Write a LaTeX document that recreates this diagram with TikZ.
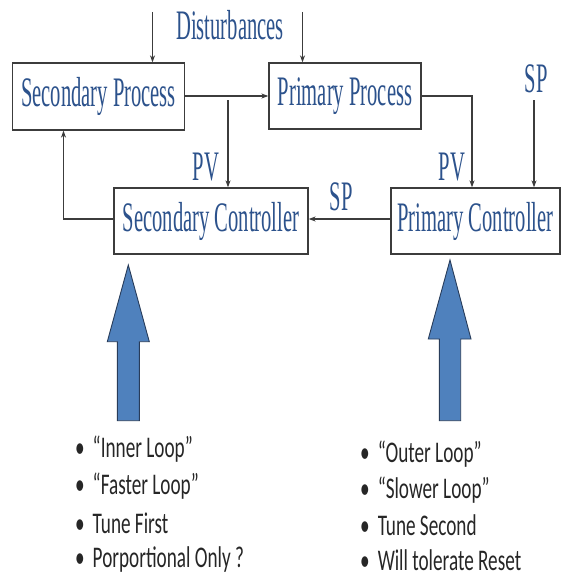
\documentclass[tikz,border=0pt]{standalone}
\usepackage{fontspec}
\usetikzlibrary{arrows.meta}
\newfontfamily\blockfont[FakeStretch=0.49]{Liberation Serif}
\newfontfamily\notefont[FakeStretch=0.64]{Carlito}
\definecolor{labelblue}{RGB}{44,82,140}
\definecolor{wire}{RGB}{60,60,60}
\definecolor{bigfill}{RGB}{79,129,189}
\definecolor{bigedge}{RGB}{40,60,90}
\definecolor{notegray}{RGB}{38,38,38}
\tikzset{
  block/.style={draw=wire, line width=1.3pt, fill=white, inner sep=0pt,
    font=\blockfont\fontsize{42}{42}\selectfont, text=labelblue},
  tag/.style={inner sep=0pt, font=\blockfont\fontsize{42}{42}\selectfont, text=labelblue},
  link/.style={draw=wire, line width=1.1pt, -{Stealth[length=7pt,width=5pt]}},
  note/.style={anchor=west, inner sep=0pt, text=notegray,
    font=\notefont\fontsize{30}{30}\selectfont},
  bigarrow/.style={fill=bigfill, draw=bigedge, line width=0.9pt, line join=miter}
}
\begin{document}
\begin{tikzpicture}[x=1pt, y=-1pt]
\useasboundingbox (0,0) rectangle (563,578);

% process and controller blocks
\node[block, minimum width=172pt, minimum height=67pt] (sp) at (98.5,96.5) {Secondary Process};
\node[block, minimum width=152pt, minimum height=66pt] (pp) at (345,96) {Primary Process};
\node[block, minimum width=194pt, minimum height=66pt] (sc) at (211,221) {Secondary Controller};
\node[block, minimum width=169pt, minimum height=66pt] (pc) at (475.5,221) {Primary Controller};

% signal labels
\node[tag] (dist) at (230,25) {Disturbances};
\node[tag] (spin) at (536,79) {SP};
\node[tag] (pvs) at (206,167) {PV};
\node[tag] (pvp) at (452,167) {PV};
\node[tag] (spmid) at (341,197) {SP};

% free ends of the input wires
\coordinate (d1) at (152.5,12);
\coordinate (d2) at (302.5,12);
\coordinate (spt) at (534,100);
\coordinate (tap) at (228,100);

% wiring
\draw[link] (d1) -- (d1 |- sp.north);
\draw[link] (d2) -- (d2 |- pp.north);
\draw[link] (sp.east |- 0,96) -- (pp.west |- 0,96);
\draw[link] (tap) -- (tap |- sc.north);
\draw[link] (pp.east |- 0,96) -| (pc.north -| 472,0);
\draw[link] (spt) -- (spt |- pc.north);
\draw[link] (pc.west |- 0,219) -- (sc.east |- 0,219);
\draw[link] (sc.west |- 0,219) -| (sp.south -| 63.5,0);

% large up arrows
\draw[bigarrow] (128.3,265) -- (149.3,341.7) -- (139.3,341.7) -- (139.3,420.7)
  -- (117.3,420.7) -- (117.3,341.7) -- (107.3,341.7) -- cycle;
\draw[bigarrow] (450,260) -- (471,339) -- (460.7,339) -- (460.7,420.7)
  -- (439.3,420.7) -- (439.3,339) -- (428.3,339) -- cycle;

% notes under the secondary loop
\node[note] (n1) at (75,449) {•\hspace{8pt}“Inner Loop”};
\node[note] (n2) at (75,486) {•\hspace{8pt}“Faster Loop”};
\node[note] (n3) at (75,523) {•\hspace{8pt}Tune First};
\node[note] (n4) at (75,559) {•\hspace{8pt}Porportional Only ?};

% notes under the primary loop
\node[note] (m1) at (360,454) {•\hspace{8pt}“Outer Loop”};
\node[note] (m2) at (360,490) {•\hspace{8pt}“Slower Loop”};
\node[note] (m3) at (360,525) {•\hspace{8pt}Tune Second};
\node[note] (m4) at (360,560) {•\hspace{8pt}Will tolerate Reset};
\end{tikzpicture}
\end{document}
